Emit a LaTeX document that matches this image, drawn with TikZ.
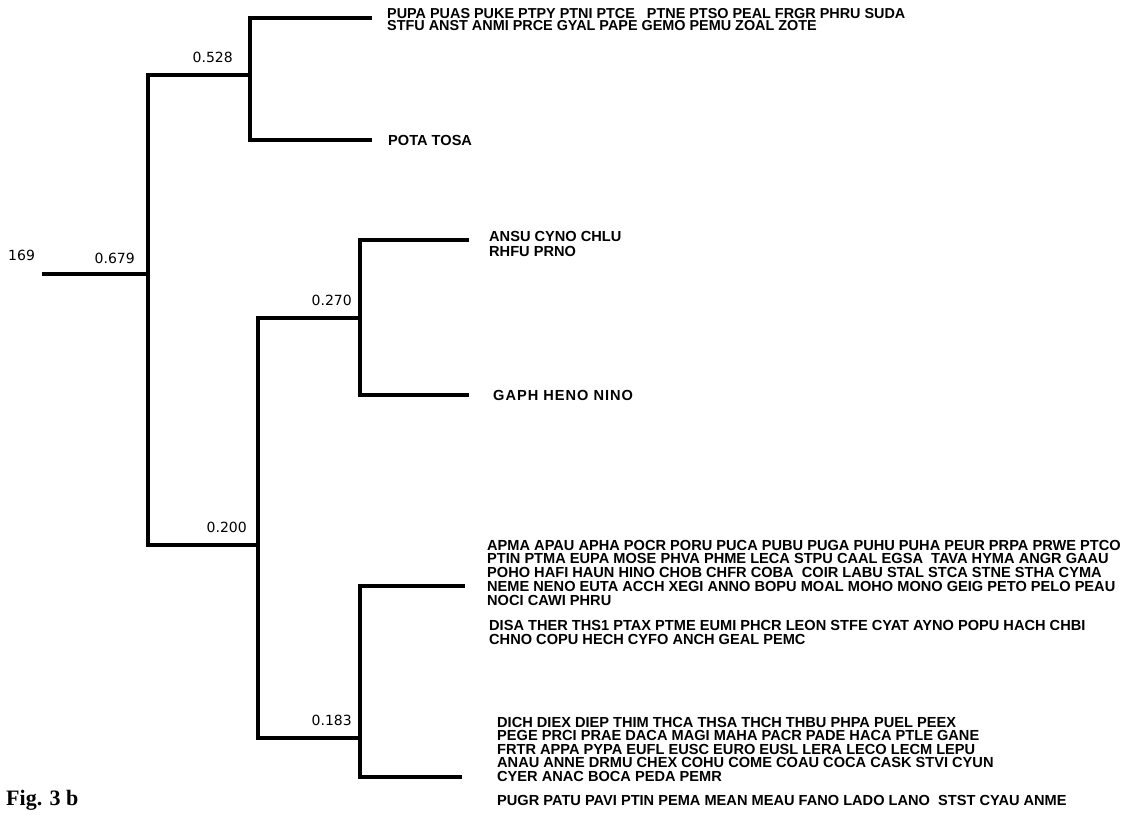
\documentclass[tikz,border=0pt]{standalone}
\usepackage{fontspec}
\newfontfamily\taxfont{Liberation Sans}
\newfontfamily\numfont{DejaVu Sans}
\newfontfamily\figfont{Liberation Serif}
\begin{document}
\begin{tikzpicture}[x=1pt,y=-1pt,
  branch/.style={line width=3.4pt,line join=miter,line cap=rect},
  tax/.style={font=\taxfont\bfseries\fontsize{14.6}{14}\selectfont,inner sep=0pt,anchor=base west},
  taxtop/.style={font=\taxfont\bfseries\fontsize{14.4}{13}\selectfont,inner sep=0pt,anchor=base west},
  val/.style={font=\numfont\fontsize{14}{14}\selectfont,inner sep=0pt,anchor=base east}]
\useasboundingbox (0,0) rectangle (1134,815);
% junctions and tips
\coordinate (r0) at (44,274);
\coordinate (j679) at (148,274);
\coordinate (j528) at (250,75);
\coordinate (j200) at (258,545);
\coordinate (t1) at (370,18);
\coordinate (t2) at (370,140);
\coordinate (j270) at (360,318);
\coordinate (t3) at (467,240);
\coordinate (t4) at (467,395);
\coordinate (j183) at (360,738);
\coordinate (t5) at (463,586);
\coordinate (t6) at (460,777);
% branches
\draw[branch] (r0) -- (j679);
\draw[branch] (j528) -| (j679) |- (j200);
\draw[branch] (t1) -| (j528) |- (t2);
\draw[branch] (j270) -| (j200) |- (j183);
\draw[branch] (t3) -| (j270) |- (t4);
\draw[branch] (t5) -| (j183) |- (t6);
% values
\node[val,anchor=base west] (n169) at (8,260) {169};
\node[val] (v679) at (135,263) {0.679};
\node[val] (v528) at (233,62) {0.528};
\node[val] (v270) at (352,305) {0.270};
\node[val] (v200) at (247,532) {0.200};
\node[val] (v183) at (352,725) {0.183};
% taxa
\node[taxtop] (top1) at (387,18) {PUPA PUAS PUKE PTPY PTNI PTCE\ \ \ PTNE PTSO PEAL FRGR PHRU SUDA};
\node[taxtop] (top2) at (387,30.5) {STFU ANST ANMI PRCE GYAL PAPE GEMO PEMU ZOAL ZOTE};
\node[tax] (pota) at (388,145) {POTA TOSA};
\node[tax] (ansu) at (489,241) {ANSU CYNO CHLU};
\node[tax] (rhfu) at (489,256) {RHFU PRNO};
\node[tax] (gaph) at (493,400) {G\kern1pt A\kern1pt P\kern1pt H\hspace{5pt}H\kern1pt E\kern1pt N\kern1pt O\hspace{5pt}N\kern1pt I\kern1pt N\kern1pt O};
\foreach \t [count=\i] in {
  APMA APAU APHA POCR PORU PUCA PUBU PUGA PUHU PUHA PEUR PRPA PRWE PTCO,
  PTIN PTMA EUPA MOSE PHVA PHME LECA STPU CAAL EGSA\ \ TAVA HYMA ANGR GAAU,
  POHO HAFI HAUN HINO CHOB CHFR COBA\ \ COIR LABU STAL STCA STNE STHA CYMA,
  NEME NENO EUTA ACCH XEGI ANNO BOPU MOAL MOHO MONO GEIG PETO PELO PEAU,
  NOCI CAWI PHRU}
  \node[tax,name=apma\i] at (487,{550+(\i-1)*13.75}) {\t};
\foreach \t [count=\i] in {
  DISA THER THS1 PTAX PTME EUMI PHCR LEON STFE CYAT AYNO POPU HACH CHBI,
  CHNO COPU HECH CYFO ANCH GEAL PEMC}
  \node[tax,name=disa\i] at (489,{630+(\i-1)*14}) {\t};
\foreach \t [count=\i] in {
  DICH DIEX DIEP THIM THCA THSA THCH THBU PHPA PUEL PEEX,
  PEGE PRCI PRAE DACA MAGI MAHA PACR PADE HACA PTLE GANE,
  FRTR APPA PYPA EUFL EUSC EURO EUSL LERA LECO LECM LEPU,
  ANAU ANNE DRMU CHEX COHU COME COAU COCA CASK STVI CYUN,
  CYER ANAC BOCA PEDA PEMR}
  \node[tax,name=dich\i] at (497,{727+(\i-1)*13.5}) {\t};
\node[tax] (pugr) at (497,805) {PUGR PATU PAVI PTIN PEMA MEAN MEAU FANO LADO LANO\ \ STST CYAU ANME};
\node[font=\figfont\bfseries\fontsize{22}{22}\selectfont,inner sep=0pt,anchor=base west] (fig) at (6,805) {Fig. 3 b};
\end{tikzpicture}
\end{document}
